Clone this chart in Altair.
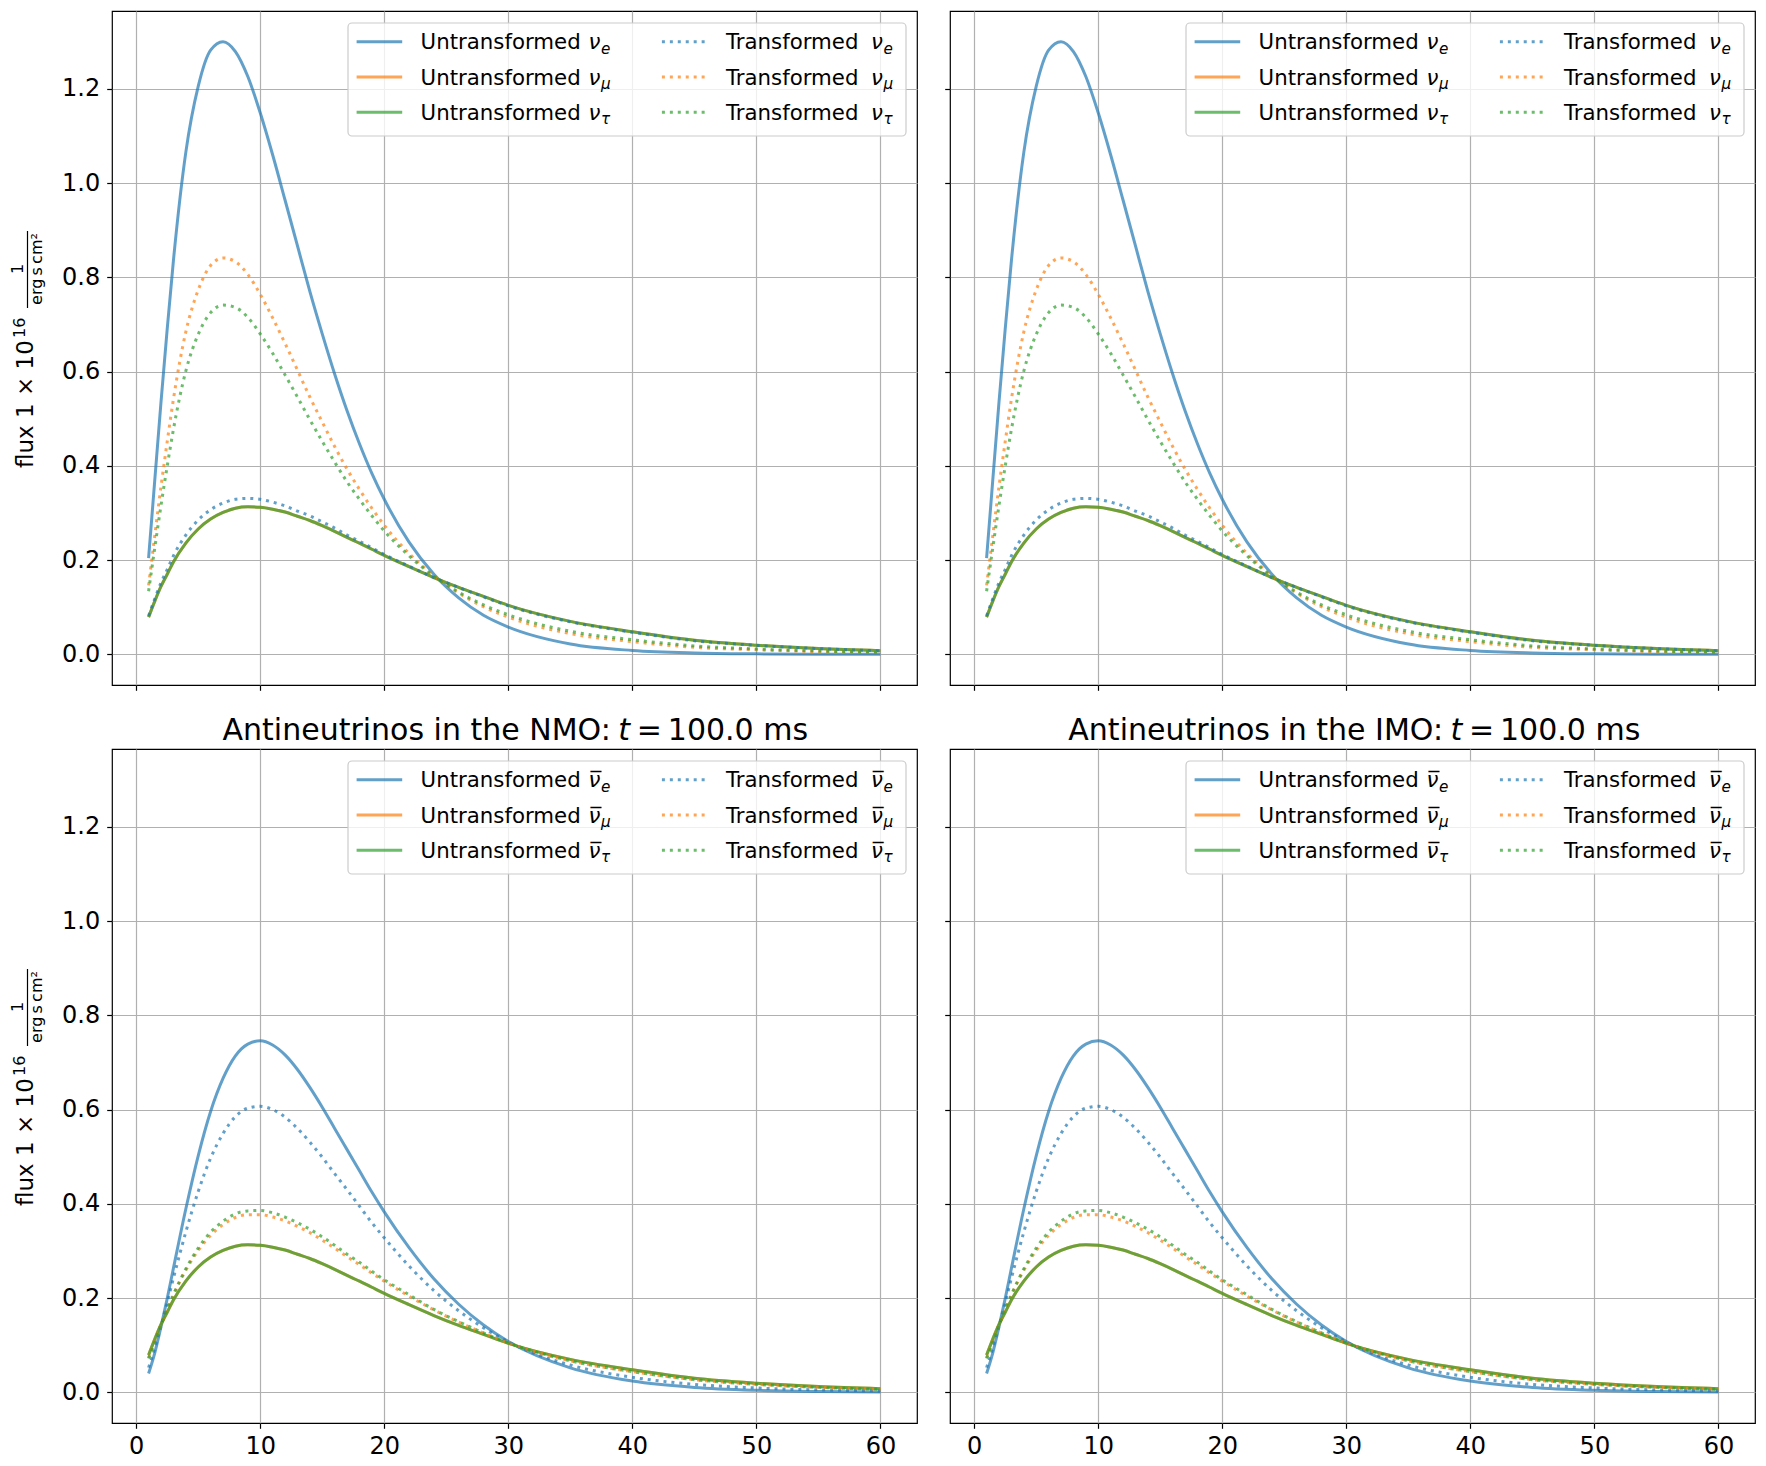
import altair as alt
import pandas as pd

# ---------------------------------------------------------------------------
# Spectra (energy in MeV, flux in units of 1e16 / (erg s cm^2))
# ---------------------------------------------------------------------------
energy = [1, 1.5, 2, 2.5, 3, 4, 5, 6, 7, 8, 9, 10, 11, 12, 13, 14, 15, 16, 17,
          18, 19, 20, 22, 24, 26, 28, 30, 35, 40, 45, 50, 55, 60]

# neutrinos, t = 100 ms
nu_e = [0.204, 0.37, 0.535, 0.690, 0.835, 1.065, 1.205, 1.282, 1.300, 1.279,
        1.226, 1.149, 1.060, 0.964, 0.867, 0.770, 0.680, 0.595, 0.517, 0.447,
        0.384, 0.329, 0.238, 0.170, 0.120, 0.083, 0.058, 0.022, 0.0083, 0.0030,
        0.0011, 0.0004, 0.0001]
nu_x = [0.079, 0.113, 0.144, 0.170, 0.196, 0.236, 0.266, 0.287, 0.301, 0.310,
        0.313, 0.312, 0.308, 0.302, 0.293, 0.284, 0.273, 0.261, 0.248, 0.236,
        0.223, 0.210, 0.186, 0.163, 0.142, 0.123, 0.104, 0.070, 0.048, 0.030,
        0.0195, 0.0124, 0.0078]
nu_e_transformed = [0.0815, 0.118, 0.152, 0.180, 0.209, 0.253, 0.285, 0.307,
                    0.321, 0.329, 0.331, 0.329, 0.323, 0.315, 0.304, 0.294,
                    0.281, 0.268, 0.253, 0.240, 0.226, 0.212, 0.187, 0.163,
                    0.142, 0.122, 0.103, 0.069, 0.047, 0.029, 0.0191, 0.0122,
                    0.0076]
nu_mu_transformed = [0.1465, 0.252, 0.356, 0.451, 0.541, 0.684, 0.773, 0.825,
                     0.841, 0.833, 0.806, 0.764, 0.714, 0.660, 0.603, 0.546,
                     0.493, 0.441, 0.393, 0.350, 0.310, 0.274, 0.214, 0.167,
                     0.130, 0.101, 0.079, 0.044, 0.027, 0.015, 0.0096, 0.0059,
                     0.0037]
nu_tau_transformed = [0.134, 0.226, 0.316, 0.399, 0.477, 0.601, 0.679, 0.725,
                      0.741, 0.736, 0.715, 0.680, 0.639, 0.593, 0.546, 0.498,
                      0.452, 0.408, 0.366, 0.329, 0.294, 0.262, 0.209, 0.166,
                      0.132, 0.105, 0.084, 0.049, 0.031, 0.018, 0.0114, 0.0071,
                      0.0044]

# antineutrinos, t = 100 ms
anu_e = [0.040, 0.084, 0.139, 0.199, 0.263, 0.389, 0.502, 0.596, 0.666, 0.714,
         0.739, 0.746, 0.737, 0.716, 0.685, 0.647, 0.605, 0.560, 0.515, 0.470,
         0.425, 0.383, 0.307, 0.241, 0.187, 0.143, 0.108, 0.052, 0.024, 0.0105,
         0.0045, 0.0019, 0.0008]
anu_x = [0.079, 0.113, 0.144, 0.170, 0.196, 0.236, 0.266, 0.287, 0.301, 0.310,
         0.313, 0.312, 0.308, 0.302, 0.293, 0.284, 0.273, 0.261, 0.248, 0.236,
         0.223, 0.210, 0.186, 0.163, 0.142, 0.123, 0.104, 0.070, 0.048, 0.030,
         0.0195, 0.0124, 0.0078]
anu_e_transformed = [0.0525, 0.0933, 0.141, 0.190, 0.242, 0.340, 0.426, 0.497,
                     0.549, 0.585, 0.603, 0.607, 0.600, 0.584, 0.560, 0.531,
                     0.499, 0.464, 0.430, 0.395, 0.360, 0.328, 0.268, 0.216,
                     0.173, 0.137, 0.107, 0.058, 0.032, 0.017, 0.0093, 0.0053,
                     0.0030]
anu_mu_transformed = [0.073, 0.109, 0.143, 0.174, 0.206, 0.259, 0.301, 0.333,
                      0.356, 0.371, 0.377, 0.377, 0.372, 0.364, 0.352, 0.339,
                      0.323, 0.306, 0.288, 0.271, 0.253, 0.236, 0.204, 0.175,
                      0.149, 0.126, 0.105, 0.067, 0.044, 0.027, 0.0173, 0.0108,
                      0.0067]
anu_tau_transformed = [0.072, 0.108, 0.143, 0.175, 0.207, 0.262, 0.306, 0.340,
                       0.363, 0.379, 0.385, 0.386, 0.381, 0.372, 0.360, 0.346,
                       0.330, 0.312, 0.293, 0.276, 0.257, 0.239, 0.207, 0.176,
                       0.150, 0.126, 0.105, 0.067, 0.044, 0.027, 0.017, 0.0106,
                       0.0066]

x_ticks = [0, 10, 20, 30, 40, 50, 60]
y_ticks = [0.0, 0.2, 0.4, 0.6, 0.8, 1.0, 1.2]

# ---------------------------------------------------------------------------
BLUE, ORANGE, GREEN = "#1f77b4", "#ff7f0e", "#2ca02c"
DOTTED = [3, 4.95]
FONT = "DejaVu Sans"
W, H = 805, 674
LEGEND_SIZE = 21.3

X_SCALE = alt.Scale(domain=[-1.95, 62.95], nice=False, zero=False)
Y_SCALE = alt.Scale(domain=[-0.065, 1.365], nice=False, zero=False)

# drawing order: untransformed e, mu, tau then transformed e, mu, tau
STYLES = [("Ue", BLUE, None), ("Umu", ORANGE, None), ("Utau", GREEN, None),
          ("Te", BLUE, DOTTED), ("Tmu", ORANGE, DOTTED), ("Ttau", GREEN, DOTTED)]


def spectra_frame(e, x, te, tmu, ttau):
    series = {"Ue": e, "Umu": x, "Utau": x, "Te": te, "Tmu": tmu, "Ttau": ttau}
    rows = []
    for key, vals in series.items():
        for en, v in zip(energy, vals):
            rows.append({"E": en, "flux": v, "series": key})
    return pd.DataFrame(rows)


NU = spectra_frame(nu_e, nu_x, nu_e_transformed, nu_mu_transformed, nu_tau_transformed)
ANU = spectra_frame(anu_e, anu_x, anu_e_transformed, anu_mu_transformed, anu_tau_transformed)
ONE = pd.DataFrame({"k": [0]})


def curves(df, x_labels, y_labels):
    x = alt.X("E:Q", scale=X_SCALE,
              axis=alt.Axis(values=x_ticks, labels=x_labels, format="d", title=None))
    y = alt.Y("flux:Q", scale=Y_SCALE,
              axis=alt.Axis(values=y_ticks, labels=y_labels, format=".1f", title=None))
    layers = []
    for key, color, dash in STYLES:
        kw = dict(color=color, strokeWidth=3, opacity=0.7, interpolate="monotone",
                  strokeCap="butt")
        if dash:
            kw["strokeDash"] = dash
        layers.append(
            alt.Chart(df).transform_filter(alt.datum.series == key)
            .mark_line(**kw).encode(x=x, y=y)
        )
    return layers


def legend(anti):
    nu = "\u03bd\u0305" if anti else "\u03bd"
    rows = []
    for col, word in enumerate(["Untransformed", "Transformed"]):
        for row, (flav, color) in enumerate(zip(["e", "\u03bc", "\u03c4"], [BLUE, ORANGE, GREEN])):
            sx = 244.6 if col == 0 else 549.9
            tx = 308.6 if col == 0 else 613.9
            nx = tx + (168 if col == 0 else 145)
            base = 38.3 + 35.3 * row
            rows.append(dict(col=col, word=word, nu=nu, sub=flav, color=color,
                             sx=sx, sx2=sx + 45.6, sy=30.7 + 35.3 * row,
                             tx=tx, nx=nx, bx=nx + 12.5, ty=base, by=base + 4.5))
    leg = pd.DataFrame(rows)

    box = alt.Chart(ONE).mark_rect(
        cornerRadius=4, fill="white", fillOpacity=0.8, stroke="#cccccc", strokeWidth=1.2
    ).encode(x=alt.value(236), x2=alt.value(794), y=alt.value(12), y2=alt.value(125))

    def px(f):
        return alt.X(f"{f}:Q", scale=None, axis=None)

    def py(f):
        return alt.Y(f"{f}:Q", scale=None, axis=None)

    solid = alt.Chart(leg[leg.col == 0]).mark_rule(strokeWidth=3, opacity=0.7).encode(
        x=px("sx"), x2="sx2:Q", y=py("sy"), color=alt.Color("color:N", scale=None))
    dotted = alt.Chart(leg[leg.col == 1]).mark_rule(
        strokeWidth=3, opacity=0.7, strokeDash=DOTTED, strokeCap="butt").encode(
        x=px("sx"), x2="sx2:Q", y=py("sy"), color=alt.Color("color:N", scale=None))
    words = alt.Chart(leg).mark_text(font=FONT, fontSize=LEGEND_SIZE, align="left",
                                     baseline="alphabetic", color="black").encode(
        x=px("tx"), y=py("ty"), text="word:N")
    nus = alt.Chart(leg).mark_text(font=FONT, fontSize=LEGEND_SIZE, fontStyle="italic",
                                   align="left", baseline="alphabetic", color="black").encode(
        x=px("nx"), y=py("ty"), text="nu:N")
    subs = alt.Chart(leg).mark_text(font=FONT, fontSize=15.2, fontStyle="italic", align="left",
                                    baseline="alphabetic", color="black").encode(
        x=px("bx"), y=py("by"), text="sub:N")
    return [box, solid, dotted, words, nus, subs]


def text_piece(s, x, y, size, **kw):
    return alt.Chart(ONE).mark_text(font=FONT, fontSize=size, color="black",
                                    baseline="alphabetic", **kw).encode(
        x=alt.value(x), y=alt.value(y), text=alt.value(s))


def y_label():
    return [
        text_piece("flux 1 \u00d7 10", -79, 457, 23, angle=270, align="left"),
        text_piece("16", -87, 327, 16, angle=270, align="left"),
        text_piece("1", -89, 258, 16, angle=270, align="center"),
        alt.Chart(ONE).mark_rule(color="black", strokeWidth=1.2).encode(
            x=alt.value(-84.5), y=alt.value(220), y2=alt.value(297)),
        text_piece("erg\u2009s\u2009cm\u00b2", -70, 258, 16, angle=270, align="center"),
    ]


def title(order, r):
    return [
        text_piece(f"Antineutrinos in the {order}:", r, -8.7, 30, align="right"),
        text_piece("t", r + 7.5, -8.7, 30, align="left", fontStyle="italic"),
        text_piece("=", r + 26.0, -8.7, 30, align="left"),
        text_piece("100.0 ms", r + 57.0, -8.7, 30, align="left"),
    ]


def panel(df, anti, left, bottom, order=None, r=0):
    layers = curves(df, x_labels=bottom, y_labels=left) + legend(anti)
    if left:
        layers += y_label()
    if order:
        layers += title(order, r)
    return alt.layer(*layers).properties(width=W, height=H)


top = alt.hconcat(
    panel(NU, False, True, False),
    panel(NU, False, False, False),
    spacing=25,
)
bottom = alt.hconcat(
    panel(ANU, True, True, True, "NMO", 498.8),
    panel(ANU, True, False, True, "IMO", 493.0),
    spacing=25,
)

chart = (
    alt.vconcat(top, bottom, spacing=23)
    .properties(padding={"left": 9, "top": 10, "right": 5, "bottom": 5})
    .configure(font=FONT)
    .configure_view(stroke="black", strokeWidth=1.2)
    .configure_axis(
        grid=True, gridColor="#b0b0b0", gridWidth=1.2, domain=False,
        tickColor="black", tickWidth=1.2, tickSize=5.3,
        labelFont=FONT, labelFontSize=24, labelColor="black",
        labelFlush=False, labelOverlap=False,
    )
    .configure_axisX(labelPadding=6)
    .configure_axisY(labelPadding=7)
)

chart.save("out.html", embed_options={"renderer": "svg", "actions": False})
